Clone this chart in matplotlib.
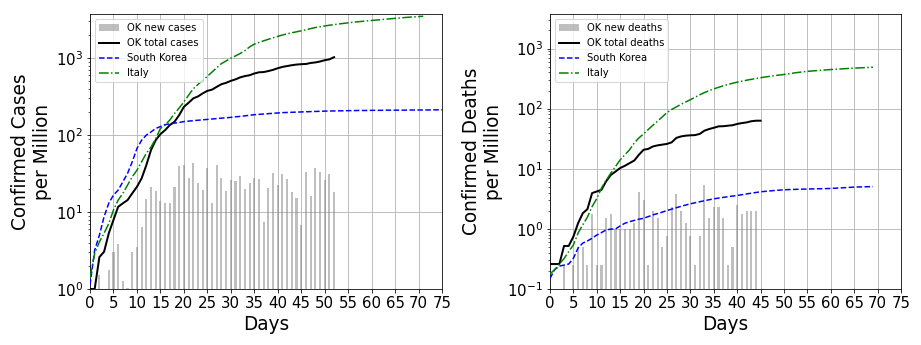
import numpy as np
import matplotlib
matplotlib.use("Agg")
import matplotlib.pyplot as plt

# ---------------------------------------------------------------------------
# Data (per million, indexed by days since start)
# ---------------------------------------------------------------------------
ok_new_cases = [0, 0, 1.5, 0, 1.77, 3.0, 3.8, 1.27, 1.04, 3.0, 3.5, 6.4, 14.8,
                21, 18.8, 13.9, 13, 13, 21, 39.5, 40.7, 27.6, 43, 23.8, 19.3,
                37, 13, 40.7, 27.6, 18.8, 26, 25, 29.3, 20, 23.8, 27.6, 27,
                7.4, 20.5, 32, 22.4, 31, 27, 18, 15.2, 6.8, 33, 16, 37, 33,
                26, 31, 18]
ok_total_cases = [1.0, 1.0, 2.6, 3.05, 5.3, 7.9, 11.7, 13, 14.3, 17.5, 21.3,
                  27.4, 40.7, 64, 86, 103, 116, 135, 149, 182, 233, 263, 300,
                  318, 348, 376, 390, 424, 459, 478, 507, 530, 563, 585, 600,
                  632, 655, 660, 680, 705, 740, 770, 790, 810, 826, 835, 840,
                  866, 880, 905, 940, 965, 1030]
sk_cases = [1.13, 3.2, 5.0, 8.7, 13, 16.6, 19.3, 24.7, 31.8, 45, 67, 86, 100,
            110, 122, 129, 137, 140, 143, 146, 150, 152, 154, 156, 158, 160,
            162, 164, 166, 168, 170, 173, 175, 178, 181, 184, 186, 188, 190,
            192, 194, 196, 197, 198, 199, 200, 201, 202, 203, 204, 205, 206,
            206, 207, 207, 208, 208, 209, 209, 209, 210, 210, 210, 211, 211,
            211, 211, 211, 212, 212, 212, 212, 212, 213, 213, 213]
italy_cases = [1.4, 2.9, 4.1, 5.3, 7.1, 10.6, 14.3, 17.5, 22.4, 28.7, 35, 45,
               58, 70, 90, 122, 135, 157, 191, 225, 270, 330, 400, 455, 515,
               580, 660, 750, 850, 920, 1000, 1070, 1150, 1250, 1400, 1520,
               1600, 1680, 1760, 1840, 1920, 2000, 2070, 2140, 2200, 2270,
               2340, 2420, 2500, 2560, 2620, 2680, 2730, 2780, 2830, 2880,
               2930, 2970, 3010, 3050, 3090, 3130, 3170, 3210, 3250, 3290,
               3330, 3370, 3410, 3440, 3470, 3510]

ok_new_deaths = [0, 0, 0, 0.25, 0, 0.25, 0.5, 0.5, 0.25, 1.77, 0.25, 0.25,
                 1.52, 1.77, 1.01, 1.01, 1.01, 1.01, 1.26, 4.04, 3.03, 0.25,
                 2.02, 1.52, 0.5, 0.76, 2.27, 3.79, 2.02, 1.26, 0.76, 0.25,
                 0.76, 5.3, 1.52, 2.27, 2.27, 1.52, 0.25, 0.5, 2.52, 1.77,
                 2.02, 2.02, 2.02, 0]
ok_total_deaths = [0.26, 0.26, 0.26, 0.52, 0.52, 0.745, 1.24, 1.82, 2.13,
                   3.94, 4.19, 4.47, 6.2, 7.9, 9.0, 10.3, 11.2, 12.4, 13.7,
                   17.1, 20.7, 21.4, 23.5, 24.5, 25.2, 25.9, 27.5, 32.6, 34.5,
                   35.5, 36, 36.3, 38, 43, 45.8, 48, 50.7, 51, 52, 53, 55.6,
                   57.5, 59, 61.7, 63, 63]
sk_deaths = [0.15, 0.21, 0.24, 0.25, 0.26, 0.325, 0.48, 0.58, 0.63, 0.70,
             0.79, 0.87, 0.96, 0.99, 1.0, 1.12, 1.24, 1.32, 1.38, 1.45, 1.5,
             1.6, 1.71, 1.8, 1.9, 2.02, 2.13, 2.25, 2.37, 2.49, 2.61, 2.72,
             2.83, 2.94, 3.05, 3.16, 3.25, 3.34, 3.43, 3.51, 3.59, 3.7, 3.81,
             3.92, 4.03, 4.14, 4.21, 4.28, 4.35, 4.41, 4.47, 4.5, 4.53, 4.56,
             4.58, 4.6, 4.62, 4.64, 4.66, 4.68, 4.7, 4.75, 4.8, 4.85, 4.9,
             4.95, 4.98, 5.0, 5.03, 5.05]
italy_deaths = [0.178, 0.21, 0.26, 0.32, 0.42, 0.54, 0.85, 1.17, 1.57, 2.35,
                3.2, 4.77, 6.4, 8.5, 10.9, 14.1, 17.1, 20.7, 26.8, 32.6, 38,
                45, 53, 62, 73, 86, 97, 107, 118, 129, 141, 155, 170, 185,
                199, 213, 226, 239, 252, 264, 276, 286, 297, 307, 317, 327,
                336, 345, 354, 362, 370, 380, 390, 400, 409, 417, 423, 429,
                435, 441, 447, 452, 457, 462, 467, 472, 476, 480, 484, 488]

YMAX = 3750

# ---------------------------------------------------------------------------
# Plot
# ---------------------------------------------------------------------------

def panel(ax, new, total, sk, italy, what, ymin):
    bars = ax.bar(np.arange(len(new)), new, width=0.45, color="gray",
                  alpha=0.5, label=f"OK new {what}", zorder=2)
    l1, = ax.plot(np.arange(len(total)), total, "k-", lw=2,
                  label=f"OK total {what}", zorder=3)
    l2, = ax.plot(np.arange(len(sk)), sk, "b--", lw=1.5, label="South Korea",
                  zorder=3)
    l3, = ax.plot(np.arange(len(italy)), italy, "g-.", lw=1.5, label="Italy",
                  zorder=3)
    ax.set_yscale("log")
    ax.set_ylim(ymin, YMAX)
    ax.set_xlim(0, 75)
    ax.set_xticks(np.arange(0, 76, 5))
    ax.grid(True, which="major", color="#b0b0b0", lw=0.8, zorder=0)
    ax.set_axisbelow(True)
    ax.tick_params(labelsize=15)
    ax.set_xlabel("Days", fontsize=18.5)
    ax.set_ylabel(f"Confirmed {what.capitalize()}\nper Million",
                  fontsize=18.5)
    ax.legend(handles=[bars, l1, l2, l3], loc="upper left", fontsize=10)


fig = plt.figure(figsize=(921 / 72, 345 / 72), dpi=72)
ax1 = fig.add_axes([90 / 921, 56 / 345, 352 / 921, 275 / 345])
ax2 = fig.add_axes([550 / 921, 56 / 345, 351 / 921, 275 / 345])

panel(ax1, ok_new_cases, ok_total_cases, sk_cases, italy_cases, "cases", 1)
panel(ax2, ok_new_deaths, ok_total_deaths, sk_deaths, italy_deaths,
      "deaths", 0.1)

fig.savefig("out.png", dpi=72)
